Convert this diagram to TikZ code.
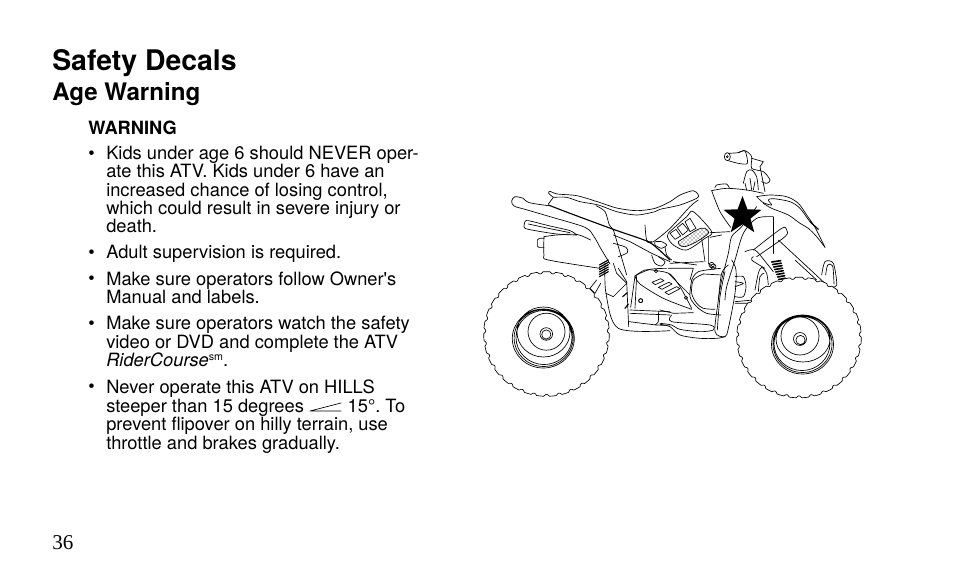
\documentclass[tikz,border=0pt]{standalone}
\usepackage{fontspec}
\setmainfont{TeX Gyre Heros}
\newfontfamily\pagefont{Liberation Serif}
\usetikzlibrary{shapes.geometric,patterns}
\tikzset{
    heading/.style = {anchor=base west, inner sep=0pt, font=\bfseries\fontsize{21.3}{24}\selectfont},
    subheading/.style = {anchor=base west, inner sep=0pt, font=\bfseries\fontsize{18.1}{22}\selectfont},
    label/.style = {anchor=base west, inner sep=0pt, font=\bfseries\fontsize{13.7}{16}\selectfont},
    para/.style = {anchor=base west, inner sep=0pt, align=left, font=\fontsize{13.72}{13.8}\selectfont},
    atv/.style = {line width=.5pt, line join=round, line cap=round},
    heavy/.style = {atv, line width=.85pt},
    rearpart/.style = {shift={(470,140)}, x=.25pt, y=-.25pt},
    midpart/.style = {shift={(590,200)}, x=.25pt, y=-.25pt},
    frontpart/.style = {shift={(710,140)}, x=.25pt, y=-.25pt},
    lowpart/.style = {shift={(660,260)}, x=.25pt, y=-.25pt},
    lowrear/.style = {shift={(470,260)}, x=.25pt, y=-.25pt}
}
\def\trace#1{plot[smooth,tension=.5] coordinates {#1}}
% tyre with its tread, then the rim rings
\def\tyre#1#2#3#4{%
    \draw [atv,fill=white] plot[domain=0:360,samples=720]
        ({#1+(#3+.8*min(1,1.6+3*sin(\x*31)))*cos(\x)},{#2+(#4+.8*min(1,1.6+3*sin(\x*31)))*sin(\x)}) -- cycle;
}
\begin{document}
\begin{tikzpicture}[x=.75pt,y=-.75pt]
    \path [use as bounding box] (0,0) rectangle (954,588);
    \node [heading] (title) at (52,71) {Safety Decals};
    \node [subheading] (subtitle) at (52,100.5) {Age Warning};
    \node [label] (warning) at (88,134.5) {WARNING};
    \foreach \y/\name in {159.5/a,259/b,285/c,329.7/d,392/e} {
        \node [para] (dot\name) at (88,\y) {•};
    }
    \node [para] (kids) at (106,233) {Kids under age 6 should NEVER oper-\\ate this ATV. Kids under 6 have an\\increased chance of losing control,\\which could result in severe injury or\\death.};
    \node [para] (adult) at (106,259) {Adult supervision is required.};
    \node [para] (owner) at (106,303.5) {Make sure operators follow Owner\textquotesingle s\\Manual and labels.};
    \node [para] (video) at (106,366.5) {Make sure operators watch the safety\\video or DVD and complete the ATV\\\textit{RiderCourse}{\fontsize{8}{8}\selectfont\raisebox{4.5pt}{sm}}.};
    \node [para] (hills) at (106,449) {Never operate this ATV on HILLS\\steeper than 15 degrees\hspace{29pt} 15°.\ To\\prevent flipover on hilly terrain, use\\throttle and brakes gradually.};
    \coordinate (wedge) at (310,411);
    \draw [atv] (wedge) -- +(31,-8) (wedge) -- +(31,0);
    \node [anchor=base west, inner sep=0pt, font=\pagefont\fontsize{15.8}{18}\selectfont] (page) at (52,549) {36};

    % rear half
    \begin{scope}[rearpart]
        \draw [atv] \trace{(250,172)(236,160)(240,154)(262,162)(320,167)(385,186)(440,204)(500,212)(555,205)(600,185)(630,165)(670,152)(685,165)(680,175)(630,195)(570,208)(555,215)(500,225)(440,215)(385,195)(330,185)(290,172)(250,172)};
        \draw [heavy] \trace{(235,195)(300,220)(430,268)(530,303)(562,325)(600,360)};
        \draw [atv] \trace{(160,175)(135,170)(125,183)(132,198)(165,208)(240,230)(345,262)(372,290)(392,325)(410,355)(420,372)};
        \draw [atv] \trace{(160,175)(178,188)(235,197)};
        \draw [atv] \trace{(250,172)(235,192)};
        \draw [atv] \trace{(378,197)(405,215)(418,255)(430,270)(445,320)(470,405)};
        \draw [atv] \trace{(165,245)(162,260)(175,268)(260,282)(320,285)};
        \draw [atv] \trace{(165,245)(175,242)(240,258)(300,272)(320,285)};
        \draw [atv] \trace{(175,252)(240,266)(300,278)};
        \draw [atv] \trace{(222,290)(260,285)(320,283)(362,300)};
        \draw [atv] \trace{(222,290)(222,345)(235,360)(390,385)};
        \draw [atv] (222,295) -- (208,295) -- (202,300) -- (202,318) -- (208,323) -- (222,323);
        \draw [atv] \trace{(430,310)(468,322)(472,338)(445,350)};
        \draw [atv] \trace{(525,255)(530,300)(545,305)};
        \foreach \t in {0,1,...,5} {
            \draw [heavy] (388,410-\t*7) -- (415,395-\t*7);
        }
    \end{scope}
    \begin{scope}[midpart]
        \draw [atv] (70,105) -- (120,125) -- (185,160) -- (240,185);
        \draw [atv] \trace{(195,125)(215,125)(230,135)(215,145)(195,135)(195,125)};
        \draw [atv] \trace{(170,125)(190,125)(240,85)(300,20)(325,0)};
        \draw [atv] \trace{(238,96)(290,50)(310,35)(365,95)(345,115)(290,150)(250,135)(232,110)(238,96)};
        \draw [atv] (240,100) -- (258,88) -- (272,108) -- (255,118) -- cycle;
        \draw [atv] (262,83) -- (278,70) -- (295,90) -- (278,105) -- cycle;
        \draw [atv] (285,65) -- (300,55) -- (318,85) -- (300,95) -- cycle;
        \draw [atv,pattern=crosshatch dots,pattern color=black] \trace{(265,125)(320,90)(345,85)(355,100)(320,125)(285,140)(268,135)(265,125)};
        \draw [atv] \trace{(135,228)(165,210)(200,212)(240,222)(270,260)(305,325)};
        \draw [atv] \trace{(135,228)(150,252)(220,295)(305,328)};
        \draw [atv] (135,228) -- (122,322);
        \draw [atv] (152,302) circle [radius=6] (198,213) circle [radius=5] (288,293) circle [radius=5];
        \draw [atv] (186,247) -- (212,236) -- (222,242) -- (196,254) -- cycle;
        \draw [atv] (205,262) -- (236,247) -- (246,252) -- (216,268) -- cycle;
        \draw [atv] (225,277) -- (260,260) -- (270,266) -- (236,284) -- cycle;
        \draw [atv] \trace{(185,165)(195,190)(215,198)(225,185)(205,170)};
        \draw [atv] \trace{(225,140)(230,165)(245,180)};
        \draw [atv] (240,190) -- (340,185) (250,185) -- (320,195) (235,205) -- (310,205) -- (300,240);
        \draw [atv] (355,110) -- (355,190) -- (375,205) (335,115) -- (345,185);
        \draw [atv] (365,195) circle [radius=8];
        \draw [atv] \trace{(305,240)(325,215)(392,205)};
        \draw [atv] \trace{(305,240)(300,290)(320,320)(350,340)(392,345)};
        \draw [atv] (236,221) -- (300,285);
    \end{scope}
    \begin{scope}[lowrear]
        \draw [atv] \trace{(405,10)(408,100)(445,205)(600,212)};
        \draw [atv] (430,10) -- (440,40) -- (470,70) -- (430,110) -- (408,100);
        \draw [atv] (445,25) -- (470,65) -- (476,200);
        \draw [heavy] (458,110) -- (472,98) (465,145) -- (475,132);
        \draw [atv] \trace{(500,45)(540,28)(590,25)};
        \draw [atv] (500,45) -- (495,145);
        \draw [atv] (512,122) circle [radius=6];
        \draw [atv] (480,150) -- (600,155) (480,160) -- (600,165);
        \draw [atv] \trace{(478,185)(560,195)(600,195)};
        \draw [atv] \trace{(565,155)(565,185)(555,195)};
        \draw [atv] (380,60) -- (360,85) -- (375,100) -- (392,70);
    \end{scope}
    \begin{scope}[lowpart]
        \draw [atv] (0,150) -- (40,160) -- (100,158);
        \draw [atv] \trace{(35,165)(35,185)(150,195)(160,210)(120,215)(60,208)(35,195)(0,190)};
        \draw [atv] \trace{(0,193)(30,200)(60,225)(120,235)(170,235)(195,230)};
        \draw [atv] \trace{(130,42)(100,60)(95,100)(110,130)(130,145)(165,148)};
        \draw [atv] (130,42) -- (185,45);
        \draw [atv] \trace{(205,15)(185,40)(175,120)(165,215)(195,230)(205,205)(225,100)(228,30)(215,0)};
        \draw [atv] \trace{(195,35)(180,110)(172,210)};
        \draw [atv] \trace{(225,50)(250,50)(258,80)(250,110)(225,110)};
        \draw [atv] \trace{(225,65)(250,70)(225,80)};
        \draw [atv] (225,125) -- (280,120) (225,130) -- (280,130);
        \draw [atv] \trace{(285,90)(295,40)(305,22)(320,40)(325,75)};
        \draw [atv] \trace{(295,95)(300,50)(312,40)};
        \draw [atv] (405,0) -- (470,60);
        \draw [atv] \trace{(485,45)(495,5)(520,10)(530,75)(510,80)};
        \draw [atv] \trace{(497,45)(503,15)(518,18)(522,72)};
    \end{scope}

    % front half
    \begin{scope}[frontpart]
        \draw [atv] (52,50) ellipse [x radius=9, y radius=12];
        \draw [atv] (52,50) circle [radius=3];
        \draw [atv] \trace{(55,40)(85,38)(105,33)(112,70)(85,70)(55,62)};
        \draw [atv] \trace{(85,38)(105,32)(125,50)(125,85)(160,95)(180,120)(170,130)(155,125)};
        \draw [atv] \trace{(100,130)(110,95)(125,90)(140,110)(145,150)};
        \draw [atv] (125,55) -- (160,65) -- (150,80) -- (165,155);
        \draw [atv] (105,130) -- (110,150) (120,115) -- (125,150) (135,125) -- (130,150);
        \draw [atv] \trace{(5,152)(50,145)(110,150)(160,160)};
        \draw [atv] \trace{(5,152)(30,215)(62,262)};
        \draw [atv] \trace{(15,143)(20,135)(50,132)(58,145)};
        \draw [atv] \trace{(140,170)(160,188)(185,195)(175,180)(190,176)(240,185)(270,205)(300,245)(325,268)};
        \draw [heavy] (300,245) -- (325,268);
        \draw [atv] \trace{(140,170)(180,165)(230,170)(265,190)(290,225)(315,262)(345,322)};
        \draw [atv] \trace{(160,190)(185,205)(235,225)(270,250)(295,265)(320,290)(345,322)};
        \draw [atv] \trace{(140,200)(95,260)(65,290)(55,340)(35,420)(25,480)};
        \draw [atv] \trace{(190,230)(140,235)(100,280)(75,360)(50,440)(45,480)};
        \draw [heavy] (190,232) -- (190,340);
        \draw [atv] \trace{(130,330)(215,265)(230,270)(225,290)(140,350)};
        \draw [atv] (205,300) -- (345,430);
        \draw [atv] (0,278) -- (60,275) (0,292) -- (35,285);
        \draw [atv] (10,380) circle [radius=8];
        \draw [atv] \trace{(105,335)(135,330)(170,370)(190,395)};
        \draw [atv] \trace{(130,350)(125,360)(165,385)};
        \foreach \t in {0,1,...,7} {
            \draw [atv,line width=1.2pt] (185+\t*3,366+\t*7.5) -- (212+\t*2,362+\t*7.5);
        }
    \end{scope}

    \tyre{546.5}{334}{62}{61.5}
    \draw [atv] (543.3,338.5) ellipse [x radius=31, y radius=29.5]
        (543.6,338) ellipse [x radius=29.5, y radius=28.5]
        (544,337.5) ellipse [x radius=28, y radius=27]
        (543.5,332) ellipse [x radius=26.5, y radius=25]
        (546.5,331.7) circle [radius=18.5] (546.3,334) circle [radius=6.3] (546.3,334.5) circle [radius=4.6];
    \tyre{799}{337.5}{61.5}{59.5}
    \draw [atv] (802.5,344.5) ellipse [x radius=31, y radius=29.5]
        (802.5,344) ellipse [x radius=29.5, y radius=28.5]
        (802,343.5) ellipse [x radius=28, y radius=27]
        (803,339) ellipse [x radius=27, y radius=23]
        (800,336) circle [radius=19] (800,339) circle [radius=6.5] (800.5,340) circle [radius=4.6];

    \node [star, star points=5, star point ratio=2.4, fill=black, inner sep=0pt, minimum size=30pt] (mark) at (742.5,216) {};
\end{tikzpicture}
\end{document}
